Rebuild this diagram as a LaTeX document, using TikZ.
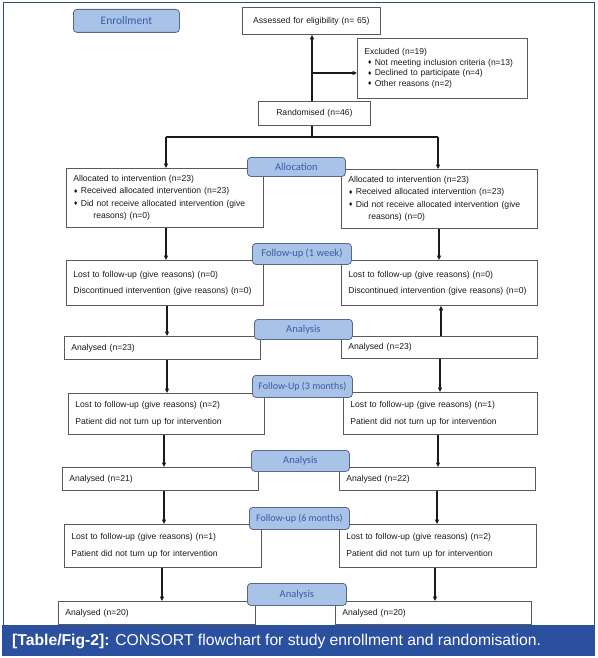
\documentclass[tikz,border=0pt]{standalone}
\usepackage{fontspec}
\setmainfont{Liberation Sans}
\newfontfamily\labfont{Carlito}
\newfontfamily\dvfont{DejaVu Sans}
\usetikzlibrary{arrows.meta}
\definecolor{framecol}{HTML}{2E4A7E}
\definecolor{barcol}{HTML}{2B50A0}
\definecolor{labfill}{HTML}{A9C2E8}
\definecolor{labdraw}{HTML}{56698A}
\definecolor{labtext}{HTML}{3A5CA6}
\definecolor{boxdraw}{HTML}{5A5A5A}
\definecolor{txt}{HTML}{1A1A1A}
\newcommand{\bul}{{\dvfont\fontsize{5.5}{5.5}\selectfont\raisebox{0.5pt}{♦}}\hspace{2.5pt}}
\newcommand{\bx}[7][]{%
  \pgfmathsetmacro{\bw}{#5-#3}\pgfmathsetmacro{\bh}{#6-#4}\pgfmathsetmacro{\tw}{#5-#3-14}%
  \node[box,#1,minimum width=\bw pt,minimum height=\bh pt,text width=\tw pt,anchor=north west] (#2) at (#3,#4) {#7};}
\newcommand{\lb}[7][]{%
  \pgfmathsetmacro{\bw}{#5-#3}\pgfmathsetmacro{\bh}{#6-#4}%
  \node[labbox,#1,minimum width=\bw pt,minimum height=\bh pt,anchor=north west] (#2) at (#3,#4) {#7};}
\tikzset{
  box/.style={draw=boxdraw,line width=0.8pt,fill=white,inner xsep=7pt,inner ysep=0pt,align=left,
    font=\fontsize{8.6}{12.5}\selectfont,text=txt},
  labbox/.style={draw=labdraw,line width=0.8pt,fill=labfill,rounded corners=3.5pt,inner sep=0pt,
    font=\labfont\fontsize{10.5}{13}\selectfont,text=labtext},
  arr/.style={draw=txt,line width=1.1pt,-{Triangle[length=4.5pt,width=4pt]}},
  ln/.style={draw=txt,line width=1.1pt}
}
\begin{document}
\begin{tikzpicture}[x=1pt,y=-1pt]
\useasboundingbox (0,0) rectangle (597,658);
\fill[white] (0,0) rectangle (597,658);
\draw[framecol,line width=1pt] (3,3) rectangle (594,626);
\fill[barcol] (2,625) rectangle (595,656);
\node[anchor=west,text=white,font=\fontsize{15.7}{17}\selectfont,inner sep=0pt] (cap) at (12,641)
  {\textbf{[Table/Fig-2]:} CONSORT flowchart for study enrollment and randomisation.};

\coordinate (cE) at (312,0);
\coordinate (j1) at (312,73);
\coordinate (j2) at (312,137);
\coordinate (jl) at (166,137);
\coordinate (jr) at (438,137);

% labels
\lb[font=\labfont\fontsize{11.5}{13}\selectfont]{enr}{73}{9}{179}{32}{Enrollment}

% boxes
\bx[align=center]{assess}{242}{7}{380}{34}{Assessed for eligibility (n= 65)}
\bx[font=\fontsize{8.5}{10.5}\selectfont,inner xsep=6pt]{excl}{357}{38}{527}{98}{Excluded (n=19)\\
\hspace*{3pt}\bul Not meeting inclusion criteria (n=13)\\
\hspace*{3pt}\bul Declined to participate (n=4)\\
\hspace*{3pt}\bul Other reasons (n=2)}
\bx[align=center]{rand}{258}{101}{370}{125}{Randomised (n=46)}

\bx{allocL}{66}{168}{263}{227}{Allocated to intervention (n=23)\\
\bul Received allocated intervention (n=23)\\
\bul Did not receive allocated intervention (give\\
\hspace*{20pt}reasons) (n=0)}
\bx{allocR}{341}{169}{537}{228}{Allocated to intervention (n=23)\\
\bul Received allocated intervention (n=23)\\
\bul Did not receive allocated intervention (give\\
\hspace*{20pt}reasons) (n=0)}

\bx[font=\fontsize{8.6}{16}\selectfont]{fuL}{66}{260}{263}{305}{Lost to follow-up (give reasons) (n=0)\\Discontinued intervention (give reasons) (n=0)}
\bx[font=\fontsize{8.6}{16}\selectfont]{fuR}{341}{260}{537}{305}{Lost to follow-up (give reasons) (n=0)\\Discontinued intervention (give reasons) (n=0)}

\bx{a1L}{64}{336}{260}{359}{Analysed (n=23)}
\bx{a1R}{341}{336}{537}{358}{Analysed (n=23)}

\bx[font=\fontsize{8.6}{17}\selectfont]{f3L}{68}{393}{264}{434}{Lost to follow-up (give reasons) (n=2)\\Patient did not turn up for intervention}
\bx[font=\fontsize{8.6}{17}\selectfont]{f3R}{343}{392}{537}{434}{Lost to follow-up (give reasons) (n=1)\\Patient did not turn up for intervention}

\bx{a2L}{62}{467}{258}{490}{Analysed (n=21)}
\bx{a2R}{339}{467}{535}{490}{Analysed (n=22)}

\bx[font=\fontsize{8.6}{17}\selectfont]{f6L}{64}{524}{261}{567}{Lost to follow-up (give reasons) (n=1)\\Patient did not turn up for intervention}
\bx[font=\fontsize{8.6}{17}\selectfont]{f6R}{339}{524}{536}{567}{Lost to follow-up (give reasons) (n=2)\\Patient did not turn up for intervention}

\bx{a3L}{58}{601}{255}{624}{Analysed (n=20)}
\bx{a3R}{335}{601}{531}{624}{Analysed (n=20)}

% stage labels (on top of boxes)
\lb{alc}{247}{157}{345}{176}{Allocation}
\lb{fu1}{252}{243}{351}{264}{Follow-up (1 week)}
\lb{an1}{254}{319}{352}{339}{Analysis}
\lb[font=\labfont\fontsize{10}{13}\selectfont]{fu3}{252}{375}{352}{397}{Follow-Up (3 months)}
\lb{an2}{251}{450}{349}{471}{Analysis}
\lb[font=\labfont\fontsize{10}{13}\selectfont]{fu6}{249}{507}{349}{529}{Follow-up (6 months)}
\lb{an3}{247}{583}{346}{605}{Analysis}

% connectors
\draw[arr] (rand.north -| cE) -- (assess.south -| cE);
\draw[arr] (j1) -- (j1 -| excl.west);
\draw[ln] (rand.south -| cE) -- (j2);
\draw[ln] (jl) -- (jr);
\draw[arr] (jl) -- (jl |- allocL.north);
\draw[arr] (jr) -- (jr |- allocR.north);

\coordinate (x1L) at (166,0); \coordinate (x1R) at (439,0);
\draw[arr] (allocL.south -| x1L) -- (fuL.north -| x1L);
\draw[arr] (allocR.south -| x1R) -- (fuR.north -| x1R);

\coordinate (x2L) at (167,0); \coordinate (x2R) at (441,0);
\draw[arr] (fuL.south -| x2L) -- (a1L.north -| x2L);
\draw[arr] (a1R.north -| x2R) -- (fuR.south -| x2R);

\coordinate (x3L) at (167,0); \coordinate (x3R) at (440,0);
\draw[arr] (a1L.south -| x3L) -- (f3L.north -| x3L);
\draw[arr] (a1R.south -| x3R) -- (f3R.north -| x3R);

\coordinate (x4L) at (164,0); \coordinate (x4R) at (438,0);
\draw[arr] (f3L.south -| x4L) -- (a2L.north -| x4L);
\draw[arr] (f3R.south -| x4R) -- (a2R.north -| x4R);

\coordinate (x5L) at (164,0); \coordinate (x5R) at (437,0);
\draw[arr] (a2L.south -| x5L) -- (f6L.north -| x5L);
\draw[arr] (a2R.south -| x5R) -- (f6R.north -| x5R);

\coordinate (x6L) at (162,0); \coordinate (x6R) at (435,0);
\draw[arr] (f6L.south -| x6L) -- (a3L.north -| x6L);
\draw[arr] (f6R.south -| x6R) -- (a3R.north -| x6R);
\end{tikzpicture}
\end{document}
